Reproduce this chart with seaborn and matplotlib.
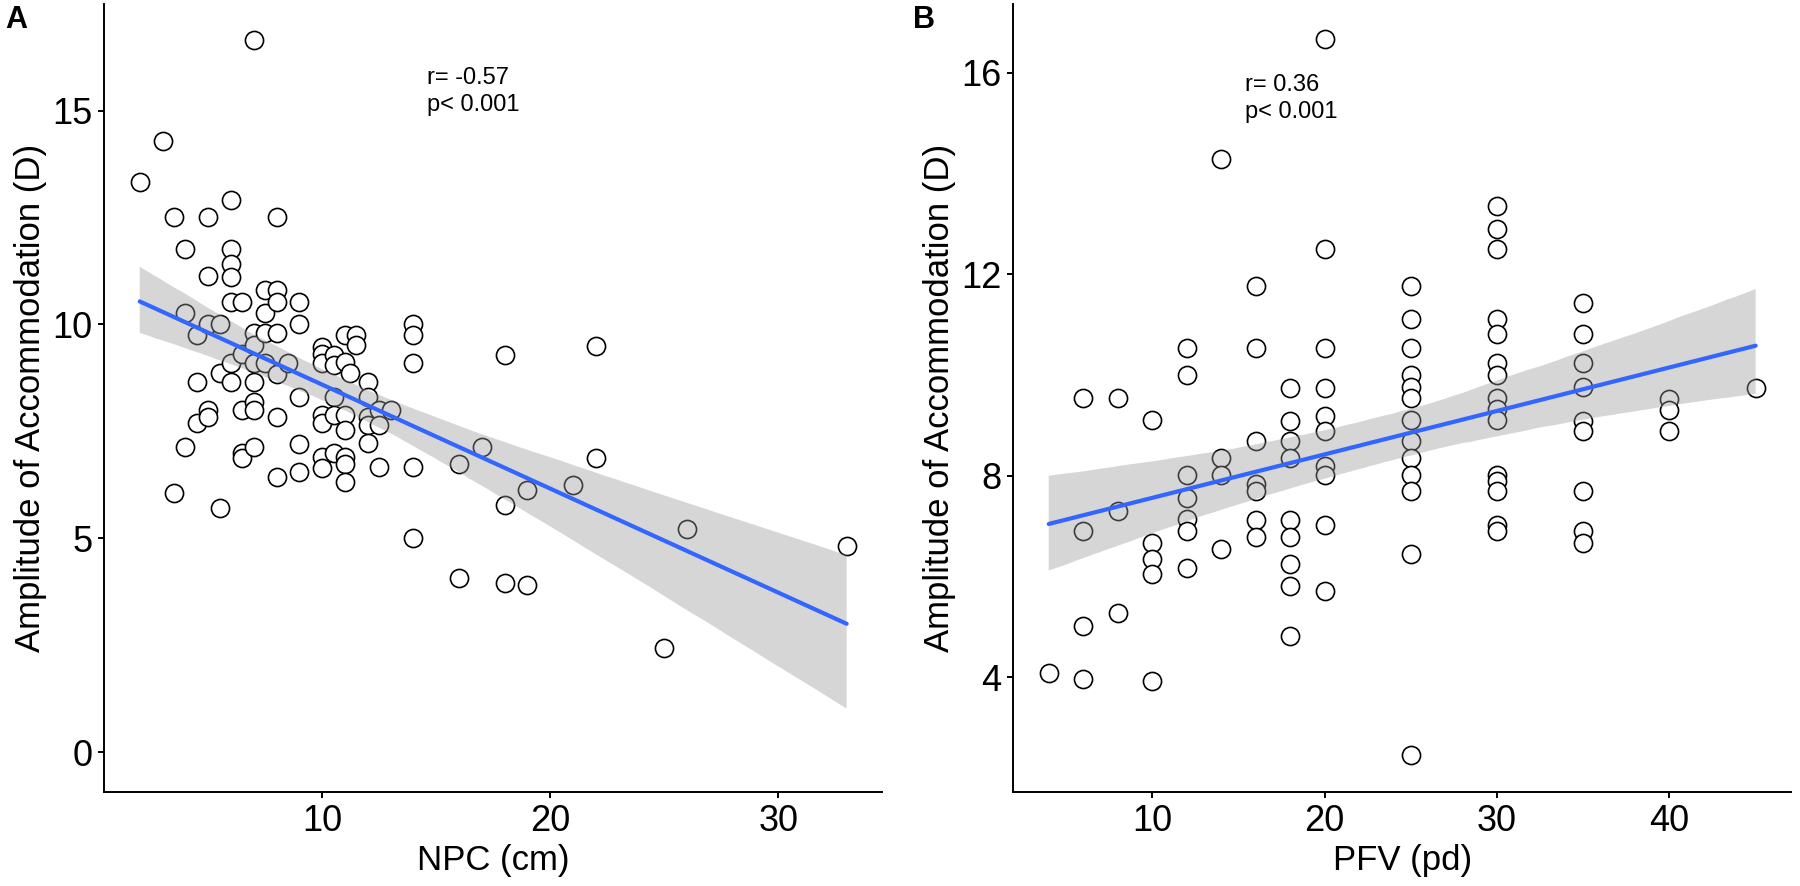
#Amplitud de acomodacion frente a NPC y PFV

import matplotlib
matplotlib.use('Agg')
import matplotlib.pyplot as plt
import seaborn as sns
import pandas as pd

# Panel A: NPC (cm) y amplitud de acomodacion (D)
npc = [2, 3, 3.5, 3.5, 4, 4, 4, 4.5, 4.5, 4.5,
       5, 5, 5, 5, 5, 5.5, 5.5, 5.5,
       6, 6, 6, 6, 6, 6, 6,
       6.5, 6.5, 6.5, 6.5, 6.5,
       7, 7, 7, 7, 7, 7, 7, 7,
       7.5, 7.5, 7.5, 7.5,
       8, 8, 8, 8, 8, 8, 8, 8.5,
       9, 9, 9, 9, 9,
       10, 10, 10, 10, 10, 10, 10,
       10.5, 10.5, 10.5, 10.5, 10.5,
       11, 11, 11, 11, 11, 11, 11, 11.2, 11.5, 11.5,
       12, 12, 12, 12, 12, 12.5, 12.5, 12.5, 13,
       14, 14, 14, 14, 14, 16, 16, 17, 18, 18, 18, 19, 19,
       21, 22, 22, 25, 26, 33]
aa_npc = [13.34, 14.28, 12.5, 6.05, 11.77, 10.26, 7.14, 9.75, 8.66, 7.69,
          12.5, 11.13, 10.0, 8.0, 7.84, 10.0, 8.87, 5.7,
          12.9, 11.77, 11.42, 11.1, 10.53, 9.09, 8.66,
          10.53, 9.32, 8.0, 7.0, 6.87,
          16.65, 9.79, 9.52, 9.09, 8.66, 8.19, 8.0, 7.13,
          10.8, 10.26, 9.79, 9.09,
          12.5, 10.8, 10.53, 9.79, 8.85, 7.84, 6.44, 9.09,
          10.53, 10.0, 8.31, 7.2, 6.54,
          9.48, 9.32, 9.09, 7.88, 7.69, 6.9, 6.64,
          9.29, 9.05, 8.31, 7.88, 7.0,
          9.75, 9.12, 7.88, 7.53, 6.9, 6.75, 6.32, 8.87, 9.75, 9.52,
          8.66, 8.31, 7.84, 7.65, 7.22, 8.0, 7.65, 6.66, 8.0,
          10.0, 9.75, 9.09, 6.66, 5.0, 6.75, 4.07, 7.13, 9.28, 5.78, 3.95, 6.13, 3.91,
          6.25, 9.49, 6.87, 2.43, 5.23, 4.83]

# Panel B: PFV (pd) y amplitud de acomodacion (D)
pfv = [4, 6, 6, 6, 6, 8, 8, 8,
       10, 10, 10, 10, 10,
       12, 12, 12, 12, 12, 12, 12,
       14, 14, 14, 14,
       16, 16, 16, 16, 16, 16, 16,
       18, 18, 18, 18, 18, 18, 18, 18, 18,
       20, 20, 20, 20, 20, 20, 20, 20, 20, 20,
       25, 25, 25, 25, 25, 25, 25, 25, 25, 25, 25, 25, 25,
       30, 30, 30, 30, 30, 30, 30, 30, 30, 30, 30, 30, 30, 30, 30,
       35, 35, 35, 35, 35, 35, 35, 35, 35,
       40, 40, 40, 45]
aa_pfv = [4.08, 9.54, 6.9, 5.01, 3.96, 9.54, 7.3, 5.27,
          9.11, 6.67, 6.35, 6.06, 3.93,
          10.53, 10.0, 8.01, 7.55, 7.15, 6.9, 6.16,
          14.29, 8.35, 8.01, 6.55,
          11.77, 10.53, 8.7, 7.84, 7.69, 7.13, 6.79,
          9.75, 9.09, 8.7, 8.35, 7.13, 6.79, 6.24, 5.81, 4.82,
          16.68, 12.51, 10.53, 9.75, 9.18, 8.89, 8.2, 8.01, 7.03, 5.71,
          11.77, 11.11, 10.53, 10.0, 9.77, 9.54, 9.11, 8.7, 8.35, 8.01, 7.69, 6.45, 2.45,
          13.35, 12.9, 12.51, 11.11, 10.82, 10.25, 10.0, 9.54, 9.33, 9.11, 8.01, 7.89, 7.69, 7.03, 6.9,
          11.43, 10.82, 10.25, 9.77, 9.09, 8.89, 7.69, 6.9, 6.67,
          9.52, 9.31, 8.89, 9.75]

df_a = pd.DataFrame({'NPC': npc, 'AA': aa_npc})
df_b = pd.DataFrame({'PFV': pfv, 'AA': aa_pfv})

# Estilo tipo ggplot classic
sns.set_style("ticks")
plt.rcParams['font.family'] = ['Liberation Sans', 'DejaVu Sans']
plt.rcParams['text.color'] = 'black'
plt.rcParams['axes.labelcolor'] = 'black'
plt.rcParams['axes.edgecolor'] = 'black'
plt.rcParams['axes.linewidth'] = 1.4
plt.rcParams['xtick.major.width'] = 1.4
plt.rcParams['ytick.major.width'] = 1.4
plt.rcParams['xtick.major.size'] = 4.5
plt.rcParams['ytick.major.size'] = 4.5

fig = plt.figure(figsize=(18, 8.86), dpi=100)
ax_a = fig.add_axes([0.058, 0.106, 0.432, 0.889])
ax_b = fig.add_axes([0.563, 0.106, 0.432, 0.889])

puntos = dict(s=170, facecolor='white', edgecolor='black', linewidths=1.2, alpha=1)
linea = dict(color='#3366FF', lw=3)


def panel(ax, datos, xcol, xlabel, texto, xtexto, ytexto, xlim, ylim, xticks, yticks):
    sns.regplot(x=xcol, y='AA', data=datos, ax=ax, scatter_kws=puntos,
                line_kws=linea, ci=95, n_boot=2000, seed=3)
    # banda de confianza gris como en ggplot
    banda = ax.collections[-1]
    banda.set_facecolor('#999999')
    banda.set_alpha(0.4)
    banda.set_edgecolor('none')
    ax.set_xlim(*xlim)
    ax.set_ylim(*ylim)
    ax.set_xticks(xticks)
    ax.set_yticks(yticks)
    ax.tick_params(labelsize=26, colors='black', pad=4)
    ax.set_xlabel(xlabel, fontsize=25, labelpad=4)
    ax.set_ylabel('Amplitude of Accommodation (D)', fontsize=25, labelpad=4)
    ax.text(xtexto, ytexto, texto, fontsize=17, va='center', ha='left',
            linespacing=1.3, color='black')
    sns.despine(ax=ax)


panel(ax_a, df_a, 'NPC', 'NPC (cm)', 'r= -0.57\np< 0.001', 14.6, 15.45,
      (0.45, 34.55), (-0.93, 17.48), [10, 20, 30], [0, 5, 10, 15])
panel(ax_b, df_b, 'PFV', 'PFV (pd)', 'r= 0.36\np< 0.001', 15.4, 15.5,
      (1.95, 47.05), (1.72, 17.36), [10, 20, 30, 40], [4, 8, 12, 16])

# Letras de los paneles
fig.text(0.003, 0.994, 'A', fontsize=22, fontweight='bold', va='top')
fig.text(0.507, 0.994, 'B', fontsize=22, fontweight='bold', va='top')

plt.savefig('out.png', dpi=100)
